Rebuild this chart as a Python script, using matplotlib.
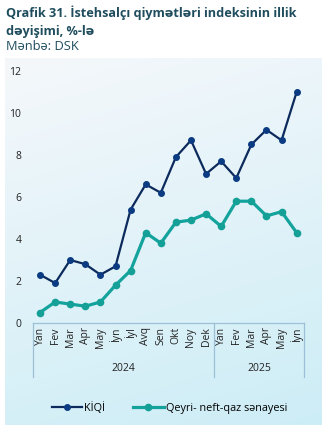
import numpy as np
import matplotlib
matplotlib.use('Agg')
import matplotlib.pyplot as plt
from matplotlib.colors import LinearSegmentedColormap

plt.rcParams['font.family'] = ['Open Sans', 'DejaVu Sans']

months = ["Yan", "Fev", "Mar", "Apr", "May", "İyn", "İyl", "Avq", "Sen", "Okt", "Noy", "Dek",
          "Yan", "Fev", "Mar", "Apr", "May", "İyn"]
years = ["2024"] * 12 + ["2025"] * 6
kiqi = [2.3, 1.9, 3.0, 2.8, 2.3, 2.7, 5.4, 6.6, 6.2, 7.9, 8.7, 7.1,
        7.7, 6.9, 8.5, 9.2, 8.7, 11.0]
qeyri_neft = [0.5, 1.0, 0.9, 0.8, 1.0, 1.8, 2.5, 4.3, 3.8, 4.8, 4.9, 5.2,
              4.6, 5.8, 5.8, 5.1, 5.3, 4.3]

TITLE_COLOR = "#1f4d5e"
BOX_COLOR = "#9cc0d8"

fig = plt.figure(figsize=(3.32, 4.36), dpi=100)

# Background panel with soft gradient
bg = fig.add_axes([5 / 332, 11 / 436, 317 / 332, 367 / 436], zorder=0)
gy, gx = np.mgrid[0:1:200j, 0:1:200j]
grad = 0.8 * gy + 0.2 * gx
cmap = LinearSegmentedColormap.from_list("bg", ["#f5f8fb", "#cdedf6"])
bg.imshow(grad, cmap=cmap, aspect="auto", extent=[0, 1, 0, 1], origin="upper")
bg.axis("off")

ax = fig.add_axes([32.5 / 332, 113 / 436, 271.7 / 332, 252 / 436], zorder=1)
ax.set_facecolor("none")

x = np.arange(len(months))
ax.plot(x, qeyri_neft, color="#13a39c", lw=2.3, marker="o", ms=4.5,
        mfc="#14a096", mec="#14a096", label="Qeyri- neft-qaz sənayesi", zorder=3)
ax.plot(x, kiqi, color="#0c2a5c", lw=1.6, marker="o", ms=4,
        mfc="#0b3b82", mec="#0b3b82", label="KİQİ", zorder=4)

ax.set_xlim(-0.5, len(months) - 0.5)
ax.set_ylim(0, 12)
ax.set_yticks(range(0, 13, 2))
ax.tick_params(axis="y", length=0, pad=8, labelsize=7.5, labelcolor="#222222")
ax.set_xticks(x)
ax.set_xticklabels(months, rotation=90, fontsize=7.5, color="#222222")
ax.tick_params(axis="x", length=0, pad=3)

for s in ["top", "right", "left"]:
    ax.spines[s].set_visible(False)
ax.spines["bottom"].set_color(BOX_COLOR)
ax.spines["bottom"].set_linewidth(0.9)

# Year grouping boxes under the month labels
trans = ax.get_xaxis_transform()
bounds = [0] + [i for i in range(1, len(years)) if years[i] != years[i - 1]] + [len(years)]
for b in bounds:
    ax.plot([b - 0.5, b - 0.5], [0, -0.215], transform=trans, color=BOX_COLOR,
            lw=0.9, clip_on=False)
for a, b in zip(bounds[:-1], bounds[1:]):
    ax.text((a + b - 1) / 2, -0.18, years[a], transform=trans, ha="center", va="center",
            fontsize=7.5, color="#222222")

fig.text(6 / 332, 1 - 13 / 436, "Qrafik 31. İstehsalçı qiymətləri indeksinin illik",
         fontsize=9.1, fontweight="bold", color=TITLE_COLOR, va="center")
fig.text(6 / 332, 1 - 31 / 436, "dəyişimi, %-lə",
         fontsize=9.1, fontweight="bold", color=TITLE_COLOR, va="center")
fig.text(6 / 332, 1 - 47 / 436, "Mənbə: DSK",
         fontsize=9.3, color=TITLE_COLOR, va="center")

handles, labels = ax.get_legend_handles_labels()
fig.legend(handles[::-1], labels[::-1], loc="center", bbox_to_anchor=(0.51, 1 - 408 / 436),
           ncol=2, frameon=False, fontsize=7.8, handlelength=2.8, columnspacing=2.6,
           handletextpad=0.2)

fig.savefig("out.png", dpi=100)
